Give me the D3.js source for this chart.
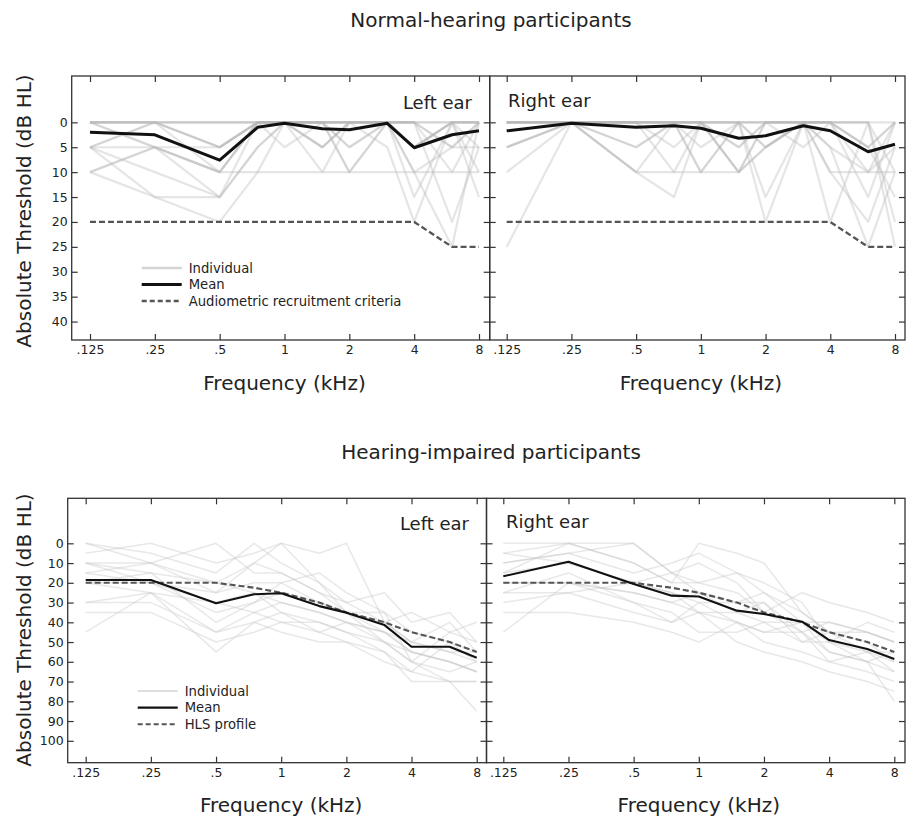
<!DOCTYPE html>
<html>
<head>
<meta charset="utf-8">
<script src="https://cdn.jsdelivr.net/npm/d3@7"></script>
<style>
  html, body { margin: 0; padding: 0; background: #fff; }
  svg { display: block; font-family: "DejaVu Sans", sans-serif; }
</style>
</head>
<body>
<svg id="chart" width="907" height="820"></svg>
<script>
// ---------------- DATA ----------------
const freqs = [0.125, 0.25, 0.5, 0.75, 1, 1.5, 2, 3, 4, 6, 8];
const freqTicks = [0.125, 0.25, 0.5, 1, 2, 4, 8];
const freqTickLabels = [".125", ".25", ".5", "1", "2", "4", "8"];
const nhYTicks = [0, 5, 10, 15, 20, 25, 30, 35, 40];
const hiYTicks = [0, 10, 20, 30, 40, 50, 60, 70, 80, 90, 100];

const titles = ["Normal-hearing participants", "Hearing-impaired participants"];
const earLabels = ["Left ear", "Right ear"];
const yLabel = "Absolute Threshold (dB HL)";
const xLabel = "Frequency (kHz)";
const nhLegend = ["Individual", "Mean", "Audiometric recruitment criteria"];
const hiLegend = ["Individual", "Mean", "HLS profile"];

// Normal-hearing
const nhLeftMean  = [2, 2.5, 7.6, 1.0, 0.2, 1.3, 1.5, 0.2, 5.1, 2.5, 1.7];
const nhRightMean = [1.7, 0.2, 1.0, 0.7, 1.2, 3.2, 2.7, 0.7, 1.7, 5.9, 4.4];
const nhCriteria  = [20, 20, 20, 20, 20, 20, 20, 20, 20, 25, 25];
const nhLeftIndividuals = [
  [0, 0, 5, 0, 0, 0, 0, 0, 0, 0, 0],
  [5, 0, 10, 0, 0, 5, 0, 0, 5, 0, 0],
  [0, 5, 10, 0, 0, 0, 5, 0, 10, 5, 0],
  [10, 5, 15, 5, 0, 0, 0, 0, 0, 5, 5],
  [5, 15, 15, 0, 0, 0, 10, 0, 5, 0, 0],
  [0, 0, 5, 0, 0, 0, 0, 5, 20, 0, 10],
  [10, 15, 20, 10, 0, 5, 0, 0, 15, 0, 0],
  [5, 0, 0, 0, 0, 10, 0, 0, 0, 20, 5],
  [0, 5, 5, 0, 0, 0, 10, 0, 5, 0, 15],
  [5, 5, 10, 0, 5, 0, 0, 0, 0, 5, 0],
  [0, 0, 5, 0, 0, 0, 0, 0, 10, 25, 0],
  [0, 0, 0, 0, 0, 0, 5, 0, 0, 0, 0],
  [5, 10, 15, 5, 0, 0, 0, 0, 5, 0, 5],
  [0, 0, 0, 0, 0, 5, 0, 0, 0, 10, 0],
  [10, 5, 10, 10, 10, 10, 10, 10, 10, 10, 10]
];
const nhRightIndividuals = [
  [0, 0, 0, 0, 0, 0, 0, 0, 0, 0, 0],
  [5, 0, 0, 0, 0, 5, 0, 0, 0, 5, 0],
  [10, 0, 5, 0, 0, 0, 5, 0, 5, 10, 5],
  [25, 0, 0, 5, 0, 10, 0, 0, 0, 0, 10],
  [0, 0, 10, 0, 5, 0, 15, 0, 0, 15, 0],
  [0, 0, 0, 10, 0, 5, 0, 0, 10, 20, 5],
  [5, 0, 0, 0, 10, 0, 20, 0, 0, 5, 15],
  [0, 0, 10, 15, 0, 10, 0, 0, 20, 0, 25],
  [0, 0, 0, 0, 0, 0, 5, 0, 0, 10, 0],
  [0, 0, 5, 0, 10, 0, 0, 0, 5, 25, 10],
  [0, 0, 0, 0, 0, 10, 5, 0, 0, 0, 20],
  [0, 0, 0, 0, 0, 0, 0, 5, 0, 5, 0],
  [5, 0, 10, 10, 10, 10, 5, 0, 10, 10, 10]
];

// Hearing-impaired
const hiLeftMean  = [18.6, 18.6, 30.4, 25.8, 25.3, 31.8, 35.1, 41.4, 52.4, 52.4, 57.9];
const hiRightMean = [16.7, 9.3, 20.6, 26.5, 26.9, 34.1, 35.8, 39.7, 49.0, 53.5, 58.6];
const hlsProfile  = [20, 20, 20, 22.5, 25, 30, 35, 40, 45, 50, 55];
const hiLeftIndividuals = [
  [0, 5, 15, 0, 10, 20, 35, 45, 55, 60, 65],
  [5, 0, 10, 5, 0, 5, 0, 40, 50, 55, 60],
  [10, 10, 0, 15, 15, 25, 35, 50, 60, 70, 70],
  [10, 15, 20, 25, 30, 35, 40, 45, 55, 60, 65],
  [15, 20, 30, 35, 40, 40, 45, 55, 65, 70, 85],
  [20, 25, 45, 40, 35, 40, 45, 50, 60, 65, 60],
  [30, 30, 45, 35, 30, 35, 40, 45, 50, 55, 55],
  [35, 35, 50, 45, 40, 45, 50, 55, 70, 70, 70],
  [45, 25, 55, 40, 45, 50, 50, 60, 65, 50, 55],
  [10, 20, 25, 10, 0, 20, 30, 25, 40, 35, 50],
  [20, 20, 35, 30, 25, 30, 35, 40, 35, 45, 40],
  [30, 25, 30, 25, 35, 45, 40, 50, 55, 60, 65],
  [15, 10, 25, 20, 20, 15, 25, 35, 45, 50, 60],
  [20, 15, 40, 30, 20, 30, 35, 35, 60, 45, 50],
  [0, 10, 20, 10, 15, 25, 30, 40, 50, 40, 55]
];
const hiRightIndividuals = [
  [0, 0, 0, 15, 20, 25, 35, 45, 55, 60, 65],
  [5, 0, 10, 20, 0, 5, 10, 35, 45, 55, 55],
  [10, 5, 15, 10, 5, 15, 20, 30, 50, 60, 80],
  [15, 10, 20, 15, 25, 30, 25, 40, 40, 45, 50],
  [20, 20, 25, 30, 35, 40, 50, 55, 60, 65, 70],
  [25, 15, 30, 35, 45, 45, 40, 50, 50, 55, 65],
  [30, 25, 35, 40, 30, 40, 45, 40, 50, 40, 45],
  [35, 35, 40, 45, 50, 40, 45, 45, 60, 55, 60],
  [45, 20, 30, 40, 35, 50, 55, 60, 65, 70, 75],
  [10, 5, 0, 15, 10, 20, 35, 25, 30, 35, 40],
  [5, 10, 20, 25, 30, 30, 30, 50, 45, 45, 50],
  [20, 20, 25, 30, 25, 35, 40, 40, 55, 60, 55],
  [15, 0, 10, 20, 20, 15, 25, 35, 45, 50, 60],
  [25, 25, 20, 25, 35, 35, 30, 45, 40, 45, 50]
];

// ---------------- LAYOUT ----------------
const svg = d3.select("#chart");
const textColor = "#222";
const spineColor = "#333";

const rows = [
  { title: titles[0], titleY: 27, y0: 76, y1: 340, yDom: [-9.3, 43.7], yTicks: nhYTicks,
    indW: 2.2, indColor: "#b8b8b8", indOpacity: 0.36, meanW: 3, dashW: 2.3,
    legend: nhLegend, legX: 141.7, legY: 268, legDy: 16.5, xLabY: 390, yLabCenter: 211,
    panels: [
      { x0: 71.7, x1: 489.7, r0: 90, r1: 479, ind: nhLeftIndividuals, mean: nhLeftMean, dash: nhCriteria,
        ear: earLabels[0], earX: 472, earY: 109, earAnchor: "end", labels: true },
      { x0: 489.7, x1: 905, r0: 506.7, r1: 895, ind: nhRightIndividuals, mean: nhRightMean, dash: nhCriteria,
        ear: earLabels[1], earX: 508, earY: 107, earAnchor: "start", labels: false }
    ] },
  { title: titles[1], titleY: 459, y0: 498.3, y1: 762.7, yDom: [-22.8, 111.1], yTicks: hiYTicks,
    indW: 1.5, indColor: "#c8c8c8", indOpacity: 0.42, meanW: 2.1, dashW: 2.1,
    legend: hiLegend, legX: 137.7, legY: 691, legDy: 16.6, xLabY: 812, yLabCenter: 630,
    panels: [
      { x0: 67.7, x1: 486.5, r0: 85.7, r1: 476.7, ind: hiLeftIndividuals, mean: hiLeftMean, dash: hlsProfile,
        ear: earLabels[0], earX: 469, earY: 530, earAnchor: "end", labels: true },
      { x0: 486.5, x1: 905, r0: 503.3, r1: 894.3, ind: hiRightIndividuals, mean: hiRightMean, dash: hlsProfile,
        ear: earLabels[1], earX: 506, earY: 528, earAnchor: "start", labels: false }
    ] }
];

rows.forEach(row => {
  const y = d3.scaleLinear().domain(row.yDom).range([row.y0, row.y1]);

  svg.append("text")
    .attr("x", 491).attr("y", row.titleY)
    .attr("text-anchor", "middle")
    .attr("font-size", 20).attr("fill", textColor)
    .text(row.title);

  svg.append("text")
    .attr("transform", `translate(31,${row.yLabCenter}) rotate(-90)`)
    .attr("text-anchor", "middle")
    .attr("font-size", 20).attr("fill", textColor)
    .text(yLabel);

  row.panels.forEach((p, pi) => {
    const x = d3.scaleLog().domain([0.125, 8]).range([p.r0, p.r1]);
    const g = svg.append("g");
    const line = d3.line().x((d, i) => x(freqs[i])).y(d => y(d));

    g.append("g").selectAll("path").data(p.ind).join("path")
      .attr("d", line)
      .attr("fill", "none")
      .attr("stroke", row.indColor)
      .attr("stroke-opacity", row.indOpacity)
      .attr("stroke-width", row.indW)
      .attr("stroke-linejoin", "round");

    g.append("path").datum(p.dash)
      .attr("d", line)
      .attr("fill", "none")
      .attr("stroke", "#555")
      .attr("stroke-width", row.dashW)
      .attr("stroke-dasharray", "6,3");

    g.append("path").datum(p.mean)
      .attr("d", line)
      .attr("fill", "none")
      .attr("stroke", "#111")
      .attr("stroke-width", row.meanW)
      .attr("stroke-linejoin", "round");

    const bottom = d3.axisBottom(x).tickValues(freqTicks)
      .tickFormat((d, i) => freqTickLabels[i]).tickSizeInner(-6).tickSizeOuter(0).tickPadding(5);
    const top = d3.axisTop(x).tickValues(freqTicks).tickFormat("").tickSizeInner(-6).tickSizeOuter(0);
    const left = d3.axisLeft(y).tickValues(row.yTicks)
      .tickFormat(p.labels ? d3.format("d") : "").tickSizeInner(-6).tickSizeOuter(0).tickPadding(4);
    const right = d3.axisRight(y).tickValues(row.yTicks).tickFormat("").tickSizeInner(-6).tickSizeOuter(0);

    const axG = [
      g.append("g").attr("transform", `translate(0,${row.y1})`).call(bottom),
      g.append("g").attr("transform", `translate(0,${row.y0})`).call(top),
      g.append("g").attr("transform", `translate(${p.x0},0)`).call(left),
      g.append("g").attr("transform", `translate(${p.x1},0)`).call(right)
    ];
    axG.forEach(a => {
      a.select(".domain").remove();
      a.selectAll(".tick line").attr("stroke", spineColor).attr("stroke-width", 1.2);
      a.selectAll(".tick text").attr("fill", textColor).attr("font-size", 12.5)
        .attr("font-family", "DejaVu Sans, sans-serif");
    });

    g.append("rect")
      .attr("x", p.x0).attr("y", row.y0)
      .attr("width", p.x1 - p.x0).attr("height", row.y1 - row.y0)
      .attr("fill", "none").attr("stroke", spineColor).attr("stroke-width", 1.3);

    g.append("text")
      .attr("x", p.earX).attr("y", p.earY)
      .attr("text-anchor", p.earAnchor)
      .attr("font-size", 18).attr("fill", textColor)
      .text(p.ear);

    svg.append("text")
      .attr("x", x(1)).attr("y", row.xLabY)
      .attr("text-anchor", "middle")
      .attr("font-size", 20).attr("fill", textColor)
      .text(xLabel);

    if (pi === 0) {
      const lg = svg.append("g");
      const styles = [
        { stroke: row.indColor, w: row.indW + 0.3, dash: null, op: 0.6 },
        { stroke: "#111", w: row.meanW, dash: null, op: 1 },
        { stroke: "#555", w: row.dashW, dash: "5,3", op: 1 }
      ];
      row.legend.forEach((t, i) => {
        const yy = row.legY + i * row.legDy;
        lg.append("line")
          .attr("x1", row.legX).attr("x2", row.legX + 40)
          .attr("y1", yy).attr("y2", yy)
          .attr("stroke", styles[i].stroke)
          .attr("stroke-width", styles[i].w)
          .attr("stroke-opacity", styles[i].op)
          .attr("stroke-dasharray", styles[i].dash);
        lg.append("text")
          .attr("x", row.legX + 47).attr("y", yy + 4.5)
          .attr("font-size", 13.2).attr("fill", textColor)
          .text(t);
      });
    }
  });
});
</script>
</body>
</html>
